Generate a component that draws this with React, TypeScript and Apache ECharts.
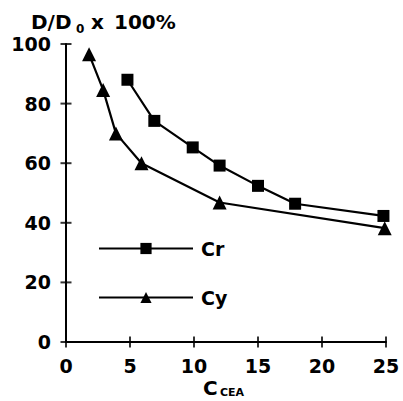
import React, { useEffect, useRef } from "react";
import * as echarts from "echarts";

const crX = [4.8, 6.9, 9.9, 12, 15, 17.9, 24.8];
const crY = [88, 74.2, 65.3, 59.2, 52.4, 46.4, 42.3];
const cyX = [1.8, 2.9, 3.9, 5.9, 12, 24.9];
const cyY = [96.6, 84.6, 70, 60, 46.8, 38.2];
const xTicks = [0, 5, 10, 15, 20, 25];
const yTicks = [0, 20, 40, 60, 80, 100];

const FONT = "DejaVu Sans";

export default function App() {
  const ref = useRef<HTMLDivElement>(null);
  useEffect(() => {
    const chart = echarts.init(ref.current!, undefined, { renderer: "svg" });
    const labelStyle = { color: "#000", fontSize: 19, fontFamily: FONT, fontWeight: "bold" };
    chart.setOption({
      animation: false,
      backgroundColor: "#fff",
      grid: { left: 66, right: 17, top: 44, bottom: 59 },
      xAxis: {
        type: "value", min: 0, max: 25, interval: 5,
        axisLine: { lineStyle: { color: "#000", width: 2 } }, splitLine: { show: false },
        axisTick: { show: false },
        axisLabel: { ...labelStyle, margin: 14, formatter: (v: number) => (xTicks.includes(v) ? String(v) : "") },
      },
      yAxis: {
        type: "value", min: 0, max: 100, interval: 20,
        axisLine: { show: true, lineStyle: { color: "#000", width: 2 } }, splitLine: { show: false },
        axisTick: { show: false },
        axisLabel: { ...labelStyle, margin: 15, formatter: (v: number) => (yTicks.includes(v) ? String(v) : "") },
      },
      legend: {
        orient: "vertical",
        left: 93,
        top: 234,
        itemWidth: 94,
        itemHeight: 14,
        itemGap: 30,
        textStyle: { color: "#000", fontSize: 19, fontFamily: FONT, fontWeight: "bold", padding: [0, 0, 0, 3] },
        data: ["Cr", "Cy"],
      },
      series: [
        {
          name: "Cr", type: "line",
          data: crX.map((x, i) => [x, crY[i]]),
          symbol: "rect", symbolSize: 12,
          lineStyle: { color: "#000", width: 2.2 },
          itemStyle: { color: "#000" },
        },
        {
          name: "Cy", type: "line",
          data: cyX.map((x, i) => [x, cyY[i]]),
          symbol: "triangle", symbolSize: 14,
          lineStyle: { color: "#000", width: 2.2 },
          itemStyle: { color: "#000" },
        },
        {
          name: "yTickMarks", type: "scatter", clip: false, silent: true,
          data: yTicks.map((v) => [0, v]),
          symbol: "rect", symbolSize: [11, 2],
          itemStyle: { color: "#000" }, z: 1,
        },
        {
          name: "xTickMarks", type: "scatter", clip: false, silent: true,
          data: xTicks.map((v) => [v, 0]),
          symbol: "rect", symbolSize: [2, 11],
          itemStyle: { color: "#000" }, z: 1,
        },
      ],
      graphic: [
        { type: "text", left: 31, top: 12, style: { text: "D/D", fontSize: 20, fontFamily: FONT, fontWeight: "bold", fill: "#000" } },
        { type: "text", left: 76, top: 23, style: { text: "0", fontSize: 12, fontFamily: FONT, fontWeight: "bold", fill: "#000" } },
        { type: "text", left: 91, top: 12, style: { text: "x", fontSize: 20, fontFamily: FONT, fontWeight: "bold", fill: "#000" } },
        { type: "text", left: 114, top: 12, style: { text: "100%", fontSize: 20, fontFamily: FONT, fontWeight: "bold", fill: "#000" } },
        { type: "text", left: 203, top: 378, style: { text: "C", fontSize: 20, fontFamily: FONT, fontWeight: "bold", fill: "#000" } },
        { type: "text", left: 220, top: 387, style: { text: "CEA", fontSize: 11, fontFamily: FONT, fontWeight: "bold", fill: "#000" } },
      ],
    });
    return () => chart.dispose();
  }, []);
  return <div ref={ref} style={{ width: 403, height: 401, position: "absolute", left: 0, top: 0 }} />;
}
